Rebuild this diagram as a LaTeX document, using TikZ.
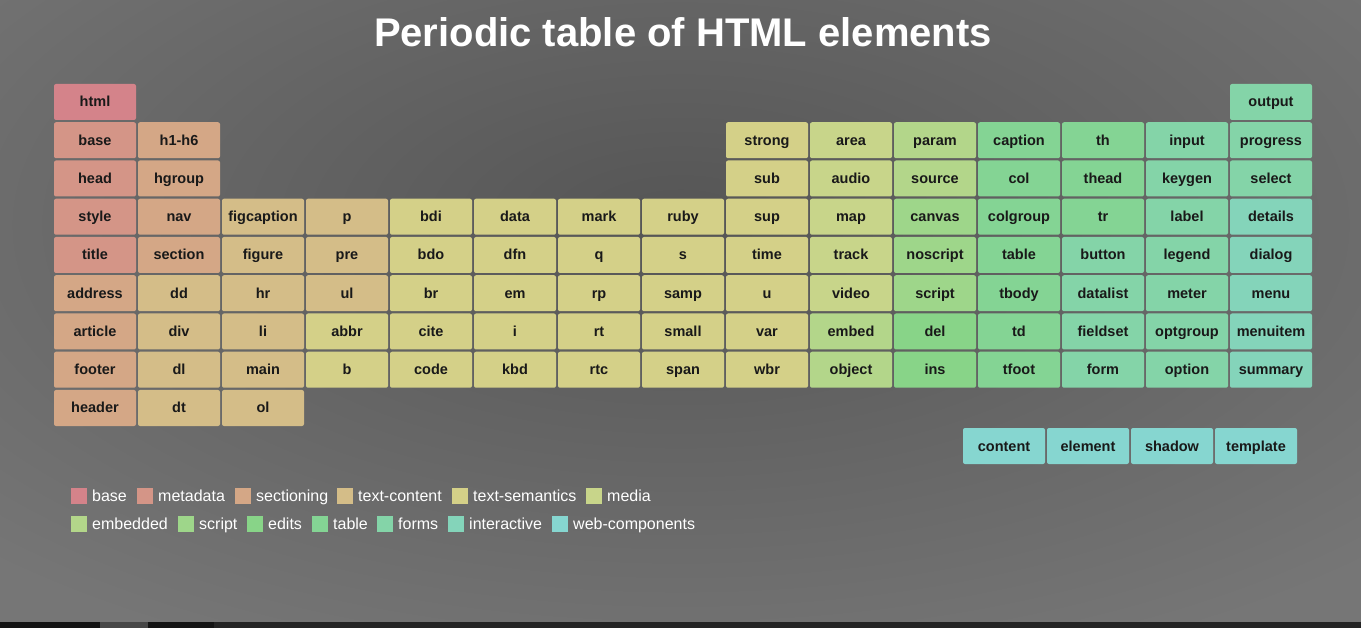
\documentclass[tikz,border=0pt]{standalone}
\usepackage{fontspec}
\setmainfont{Liberation Sans}
\definecolor{cbase}{HTML}{D4838A}
\definecolor{cmeta}{HTML}{D49587}
\definecolor{csect}{HTML}{D4A786}
\definecolor{ctext}{HTML}{D4BD88}
\definecolor{csem}{HTML}{D4D088}
\definecolor{cmedia}{HTML}{C8D58A}
\definecolor{cemb}{HTML}{B3D68A}
\definecolor{cscript}{HTML}{9ED68A}
\definecolor{cedits}{HTML}{88D488}
\definecolor{ctable}{HTML}{84D494}
\definecolor{cforms}{HTML}{84D4A8}
\definecolor{cinter}{HTML}{84D4BA}
\definecolor{cweb}{HTML}{86D6D0}
\definecolor{bgin}{HTML}{555555}
\definecolor{bgout}{HTML}{767676}
\newcommand\cell[4]{\node[cellbox,fill=#4] (n-#1) at ({95+84*(#2-1)},{102+38.25*(#3-1)}) {#1};}
\newcommand\wcell[2]{\node[cellbox,fill=cweb] (n-#1) at (#2,446) {#1};}
\newcommand\leg[4]{%
  \node[swatch,fill=#4] (s-#1) at (#2,#3) {};
  \node[legtext,anchor=base west] (l-#1) at (#2+13,#3+5.5) {#1};}
\begin{document}
\begin{tikzpicture}[x=1pt,y=-1pt,
  cellbox/.style={rectangle,rounded corners=2pt,minimum width=82pt,minimum height=36pt,
    inner sep=0pt,text height=12pt,text depth=2pt,font=\fontsize{14.5}{16}\selectfont\bfseries,text=black!90},
  swatch/.style={rectangle,minimum width=16pt,minimum height=16pt,inner sep=0pt},
  legtext/.style={inner sep=0pt,text=white,font=\fontsize{16}{18}\selectfont}]
\useasboundingbox (0,0) rectangle (1361,628);
\shade[inner color=bgin,outer color=bgout] (-300,-250) rectangle (1661,700);
% bottom strip
\fill[black!92] (0,622) rectangle (100,628);
\fill[black!72] (100,622) rectangle (148,628);
\fill[black!92] (148,622) rectangle (214,628);
\fill[black!86] (214,622) rectangle (1361,628);
% title
\node[anchor=base,text=white,inner sep=0pt,font=\fontsize{40}{44}\selectfont\bfseries] (title) at (683,47) {Periodic table of HTML elements};
% column 1
\cell{html}{1}{1}{cbase}
\cell{base}{1}{2}{cmeta}
\cell{head}{1}{3}{cmeta}
\cell{style}{1}{4}{cmeta}
\cell{title}{1}{5}{cmeta}
\cell{address}{1}{6}{csect}
\cell{article}{1}{7}{csect}
\cell{footer}{1}{8}{csect}
\cell{header}{1}{9}{csect}
% column 2
\cell{h1-h6}{2}{2}{csect}
\cell{hgroup}{2}{3}{csect}
\cell{nav}{2}{4}{csect}
\cell{section}{2}{5}{csect}
\cell{dd}{2}{6}{ctext}
\cell{div}{2}{7}{ctext}
\cell{dl}{2}{8}{ctext}
\cell{dt}{2}{9}{ctext}
% column 3
\cell{figcaption}{3}{4}{ctext}
\cell{figure}{3}{5}{ctext}
\cell{hr}{3}{6}{ctext}
\cell{li}{3}{7}{ctext}
\cell{main}{3}{8}{ctext}
\cell{ol}{3}{9}{ctext}
% column 4
\cell{p}{4}{4}{ctext}
\cell{pre}{4}{5}{ctext}
\cell{ul}{4}{6}{ctext}
\cell{abbr}{4}{7}{csem}
\cell{b}{4}{8}{csem}
% column 5
\cell{bdi}{5}{4}{csem}
\cell{bdo}{5}{5}{csem}
\cell{br}{5}{6}{csem}
\cell{cite}{5}{7}{csem}
\cell{code}{5}{8}{csem}
% column 6
\cell{data}{6}{4}{csem}
\cell{dfn}{6}{5}{csem}
\cell{em}{6}{6}{csem}
\cell{i}{6}{7}{csem}
\cell{kbd}{6}{8}{csem}
% column 7
\cell{mark}{7}{4}{csem}
\cell{q}{7}{5}{csem}
\cell{rp}{7}{6}{csem}
\cell{rt}{7}{7}{csem}
\cell{rtc}{7}{8}{csem}
% column 8
\cell{ruby}{8}{4}{csem}
\cell{s}{8}{5}{csem}
\cell{samp}{8}{6}{csem}
\cell{small}{8}{7}{csem}
\cell{span}{8}{8}{csem}
% column 9
\cell{strong}{9}{2}{csem}
\cell{sub}{9}{3}{csem}
\cell{sup}{9}{4}{csem}
\cell{time}{9}{5}{csem}
\cell{u}{9}{6}{csem}
\cell{var}{9}{7}{csem}
\cell{wbr}{9}{8}{csem}
% column 10
\cell{area}{10}{2}{cmedia}
\cell{audio}{10}{3}{cmedia}
\cell{map}{10}{4}{cmedia}
\cell{track}{10}{5}{cmedia}
\cell{video}{10}{6}{cmedia}
\cell{embed}{10}{7}{cemb}
\cell{object}{10}{8}{cemb}
% column 11
\cell{param}{11}{2}{cemb}
\cell{source}{11}{3}{cemb}
\cell{canvas}{11}{4}{cscript}
\cell{noscript}{11}{5}{cscript}
\cell{script}{11}{6}{cscript}
\cell{del}{11}{7}{cedits}
\cell{ins}{11}{8}{cedits}
% column 12
\cell{caption}{12}{2}{ctable}
\cell{col}{12}{3}{ctable}
\cell{colgroup}{12}{4}{ctable}
\cell{table}{12}{5}{ctable}
\cell{tbody}{12}{6}{ctable}
\cell{td}{12}{7}{ctable}
\cell{tfoot}{12}{8}{ctable}
% column 13
\cell{th}{13}{2}{ctable}
\cell{thead}{13}{3}{ctable}
\cell{tr}{13}{4}{ctable}
\cell{button}{13}{5}{cforms}
\cell{datalist}{13}{6}{cforms}
\cell{fieldset}{13}{7}{cforms}
\cell{form}{13}{8}{cforms}
% column 14
\cell{input}{14}{2}{cforms}
\cell{keygen}{14}{3}{cforms}
\cell{label}{14}{4}{cforms}
\cell{legend}{14}{5}{cforms}
\cell{meter}{14}{6}{cforms}
\cell{optgroup}{14}{7}{cforms}
\cell{option}{14}{8}{cforms}
% column 15
\cell{output}{15}{1}{cforms}
\cell{progress}{15}{2}{cforms}
\cell{select}{15}{3}{cforms}
\cell{details}{15}{4}{cinter}
\cell{dialog}{15}{5}{cinter}
\cell{menu}{15}{6}{cinter}
\cell{menuitem}{15}{7}{cinter}
\cell{summary}{15}{8}{cinter}
% web components
\wcell{content}{1004}
\wcell{element}{1088}
\wcell{shadow}{1172}
\wcell{template}{1256}
% legend
\leg{base}{79}{495.5}{cbase}
\leg{metadata}{145}{495.5}{cmeta}
\leg{sectioning}{243}{495.5}{csect}
\leg{text-content}{345}{495.5}{ctext}
\leg{text-semantics}{460}{495.5}{csem}
\leg{media}{594}{495.5}{cmedia}
\leg{embedded}{79}{523.5}{cemb}
\leg{script}{186}{523.5}{cscript}
\leg{edits}{255}{523.5}{cedits}
\leg{table}{320}{523.5}{ctable}
\leg{forms}{385}{523.5}{cforms}
\leg{interactive}{456}{523.5}{cinter}
\leg{web-components}{560}{523.5}{cweb}
\end{tikzpicture}
\end{document}
